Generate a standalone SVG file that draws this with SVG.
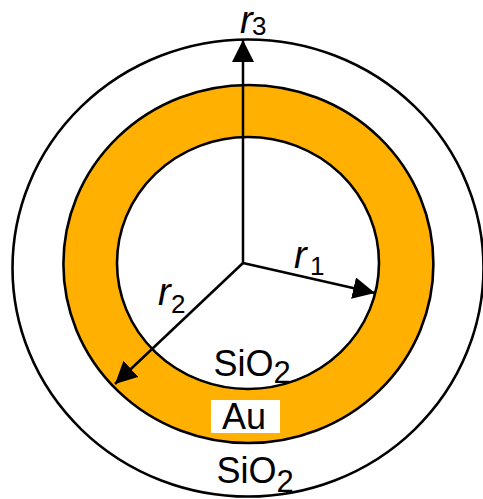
<svg xmlns="http://www.w3.org/2000/svg" width="483" height="499" viewBox="0 0 483 499">
<style>
.ring{stroke:#000;stroke-width:2.6}
.lbl{font-family:"Liberation Sans",Arial,sans-serif;fill:#000}
.r{font-style:italic;font-size:38px}
.sub{font-style:normal;font-size:26px}
.mat{font-size:36px}
.msub{font-size:31px}
.arrow{stroke:#000;stroke-width:2.5;fill:none;marker-end:url(#ah)}
</style>
<defs>
<marker id="ah" markerUnits="userSpaceOnUse" markerWidth="22" markerHeight="22" viewBox="0 0 20 20" refX="20" refY="10" orient="auto">
<path d="M0,0 L20,10 L0,20 Z" fill="#000"/>
</marker>
</defs>
<rect width="483" height="499" fill="#fff"/>
<g id="outer-shell">
<ellipse class="ring" cx="248" cy="268" rx="235.5" ry="228.5" fill="#fff"/>
</g>
<g id="gold-shell">
<ellipse class="ring" cx="248.4" cy="264" rx="185" ry="179" fill="#FFB000"/>
</g>
<g id="core">
<ellipse class="ring" cx="248" cy="263" rx="131" ry="126" fill="#fff"/>
</g>
<g id="connectors">
<line class="arrow" x1="243" y1="263" x2="243" y2="40"/>
<line class="arrow" x1="243" y1="263" x2="375" y2="293"/>
<line class="arrow" x1="243" y1="263" x2="115" y2="384"/>
</g>
<g id="label-r3"><text class="lbl r" x="240" y="33">r<tspan class="sub" x="252" y="35">3</tspan></text></g>
<g id="label-r1"><text class="lbl r" x="294" y="268">r<tspan class="sub" x="310" y="275">1</tspan></text></g>
<g id="label-r2"><text class="lbl r" x="158" y="305">r<tspan class="sub" x="171" y="313">2</tspan></text></g>
<g id="label-core"><text class="lbl mat" x="213.5" y="376">SiO<tspan class="msub" y="383">2</tspan></text></g>
<g id="label-au">
<rect x="211" y="400" width="69" height="33" fill="#fff"/>
<text class="lbl mat" x="222" y="429">Au</text>
</g>
<g id="label-outer"><text class="lbl mat" x="216.5" y="483">SiO<tspan class="msub" y="492">2</tspan></text></g>
</svg>
